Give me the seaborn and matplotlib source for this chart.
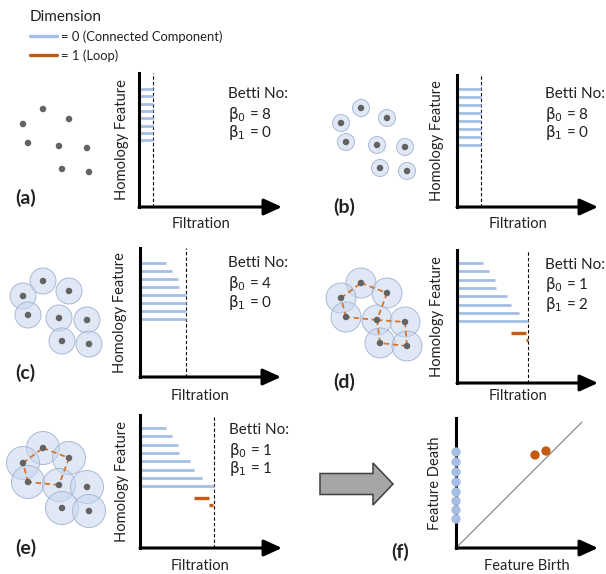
import matplotlib
matplotlib.use("Agg")

import numpy as np
import matplotlib.pyplot as plt
import seaborn as sns
from matplotlib.patches import Circle, FancyArrow
from matplotlib.lines import Line2D

# ---- data -------------------------------------------------------------
# point cloud shared by panels a-e (x to the right, y up)
cloud_x = [43, 23, 69, 28, 59, 87, 62, 89]
cloud_y = [71, 56, 61, 37, 34, 32, 11, 8]

panels = ["a", "b", "c", "d", "e"]
cover_radius = [0, 8.5, 13, 15, 16.5]
filtration = [14, 24, 46, 71, 74]
betti0 = [8, 8, 4, 1, 1]
betti1 = [0, 0, 0, 2, 1]

# barcode (same features, cut at each panel's filtration value)
h0_birth = [0, 0, 0, 0, 0, 0, 0, 0]
h0_death = [26, 32, 38, 39, 50, 54, 62, np.inf]
h1_birth = [54, 69]
h1_death = [69, 73]
h1_row = [8.4, 9.3]

# dashed loop edges (index pairs into the cloud)
loop_edges = {
    "d": [(1, 0), (0, 2), (2, 4), (4, 3), (3, 1), (4, 5), (5, 7), (7, 6), (6, 4)],
    "e": [(1, 0), (0, 2), (2, 4), (4, 3), (3, 1)],
}

# persistence diagram
diag_h0_birth = [0, 0, 0, 0, 0, 0, 0, 0]
diag_h0_death = [96, 86, 76, 66, 56, 47, 38, 29]
diag_h1_birth = [79, 90]
diag_h1_death = [93, 97]
diag_end = 126

legend_labels = ["= 0 (Connected Component)", "= 1 (Loop)"]

# ---- style ------------------------------------------------------------
BLUE = "#a6bee3"
ORANGE = "#c55a11"
LOOP = "#d8752c"
DOT = "#636363"
TXT = "#222222"
FS = 10.5

sns.set_theme(style="white")
plt.rcParams["font.family"] = ["Lato", "DejaVu Sans"]
plt.rcParams["mathtext.fontset"] = "dejavusans"
plt.rcParams["text.color"] = TXT
plt.rcParams["axes.labelcolor"] = TXT

W, H = 606, 574
fig = plt.figure(figsize=(W / 100, H / 100), dpi=100)


def add_px_axes(left, top, right, bottom):
    return fig.add_axes([left / W, 1 - bottom / H, (right - left) / W, (bottom - top) / H])


def axis_frame(ax, x0, top, tip, bottom, ylab, xlab, ylab_x, xlab_xy):
    sns.despine(ax=ax, bottom=True)
    ax.spines["left"].set_linewidth(2.2)
    ax.spines["left"].set_color("black")
    ax.spines["left"].set_capstyle("projecting")
    ax.set_xticks([])
    ax.set_yticks([])
    ax.patch.set_alpha(0)
    ax.annotate("", xy=(1, 0), xytext=(0, 0), xycoords="axes fraction",
                arrowprops=dict(arrowstyle="-|>,head_length=0.55,head_width=0.25",
                                lw=2.2, color="black", mutation_scale=20,
                                shrinkA=0, shrinkB=0))
    w, h = tip - x0, bottom - top
    ax.set_ylabel(ylab, fontsize=FS)
    ax.yaxis.set_label_coords((ylab_x + 7 - x0) / w, 0.5)
    ax.set_xlabel(xlab, fontsize=FS)
    ax.xaxis.set_label_coords((xlab_xy[0] - x0) / w, -(xlab_xy[1] - 8 - bottom) / h)


# ---- legend -----------------------------------------------------------
handles = [Line2D([], [], color=BLUE, lw=2.4), Line2D([], [], color=ORANGE, lw=2.4)]
fig.legend(handles=handles, labels=legend_labels, title="Dimension",
           loc="upper left", bbox_to_anchor=(30 / W, 1 - 10 / H), frameon=False,
           alignment="left", handlelength=2.1, handletextpad=0.25, labelspacing=0.48,
           borderpad=0, borderaxespad=0, fontsize=9.4, title_fontsize=11)

# ---- panels a-e -------------------------------------------------------
cloud_off = [(0, 0), (318, -1), (0, 172), (318, 174), (0, 339)]
# axis x, arrow tip, top, bottom, first bar y, bar spacing (pixels)
bar_box = [(139, 282, 73, 207, 89, 7.3), (457, 598, 75, 207, 89, 8.0),
           (140, 281, 248, 377, 263, 8.0), (457, 598, 250, 383, 263, 8.3),
           (140, 282, 415, 548, 428, 8.3)]
ylab_x = [122, 437, 120, 437, 122]
xlab_xy = [(201, 225), (518, 225), (200, 397), (518, 397), (200, 567)]
betti_xy = [(228, 94), (545, 94), (228, 263), (545, 265), (229, 430)]
label_xy = [(15, 198), (333, 207), (15, 373), (333, 382), (15, 548)]

for i, p in enumerate(panels):
    # point cloud with cover balls
    ox, oy = cloud_off[i]
    axc = add_px_axes(ox, oy + 70, ox + 110, oy + 190)
    axc.set_xlim(0, 110)
    axc.set_ylim(-10, 110)
    axc.axis("off")
    if cover_radius[i] > 0:
        for cx, cy in zip(cloud_x, cloud_y):
            axc.add_patch(Circle((cx, cy), cover_radius[i], fc=(0.78, 0.84, 0.94, 0.55),
                                 ec="#a9b9d6", lw=0.7, zorder=1, clip_on=False))
    for a, b in loop_edges.get(p, []):
        axc.plot([cloud_x[a], cloud_x[b]], [cloud_y[a], cloud_y[b]], color=LOOP,
                 lw=1.3, ls=(0, (3, 2)), zorder=2, clip_on=False)
    sns.scatterplot(x=cloud_x, y=cloud_y, ax=axc, color=DOT, s=22,
                    edgecolor="none", zorder=3, clip_on=False, legend=False)

    # barcode
    x0, tip, top, bottom, first, step = bar_box[i]
    ax = add_px_axes(x0, top, tip, bottom)
    ax.set_xlim(0, tip - x0)
    ax.set_ylim((bottom - first) / step, (top - first) / step)
    f = filtration[i]
    ax.axvline(f, color="black", lw=0.8, ls=(0, (3, 2)), zorder=1)
    rows = np.arange(len(h0_birth))
    ends = np.minimum(h0_death, f)
    ax.hlines(rows, h0_birth, ends, color=BLUE, lw=2.0, zorder=2)
    for b, d, r in zip(h1_birth, h1_death, h1_row):
        if b < f:
            ax.hlines(r, b, min(d, f), color=ORANGE, lw=2.4, zorder=2)
    axis_frame(ax, x0, top, tip, bottom, "Homology Feature", "Filtration",
               ylab_x[i], xlab_xy[i])

    bx, by = betti_xy[i]
    fig.text(bx / W, 1 - by / H, "Betti No:", fontsize=11, va="center")
    fig.text(bx / W, 1 - (by + 20) / H, rf"$\mathrm{{\beta}}_0$ = {betti0[i]}",
             fontsize=11, va="center")
    fig.text(bx / W, 1 - (by + 39) / H, rf"$\mathrm{{\beta}}_1$ = {betti1[i]}",
             fontsize=11, va="center")

    lx, ly = label_xy[i]
    fig.text(lx / W, 1 - ly / H, f"({p})", fontsize=14, fontweight="bold", va="center")

# ---- big arrow --------------------------------------------------------
axa = add_px_axes(310, 455, 405, 515)
axa.set_xlim(310, 405)
axa.set_ylim(515, 455)
axa.axis("off")
axa.add_patch(FancyArrow(320, 484, 73, 0, width=21, head_width=42, head_length=20,
                         length_includes_head=True, fc="#a6a6a6", ec="#3f3f3f", lw=1.1))

# ---- panel f: persistence diagram ------------------------------------
axf = add_px_axes(456, 418, 598, 548)
axf.set_xlim(0, 142)
axf.set_ylim(0, 130)
axf.plot([0, diag_end], [0, diag_end], color="#8c8c8c", lw=0.9, zorder=1)
sns.scatterplot(x=diag_h0_birth, y=diag_h0_death, ax=axf, color=BLUE, s=45,
                edgecolor="none", zorder=4, clip_on=False, legend=False)
sns.scatterplot(x=diag_h1_birth, y=diag_h1_death, ax=axf, color=ORANGE, s=45,
                edgecolor="none", zorder=4, clip_on=False, legend=False)
axis_frame(axf, 456, 418, 598, 548, "Feature Death", "Feature Birth", 435, (527, 567))
fig.text(391 / W, 1 - 552 / H, "(f)", fontsize=14, fontweight="bold", va="center")

fig.savefig("out.png", dpi=100)
